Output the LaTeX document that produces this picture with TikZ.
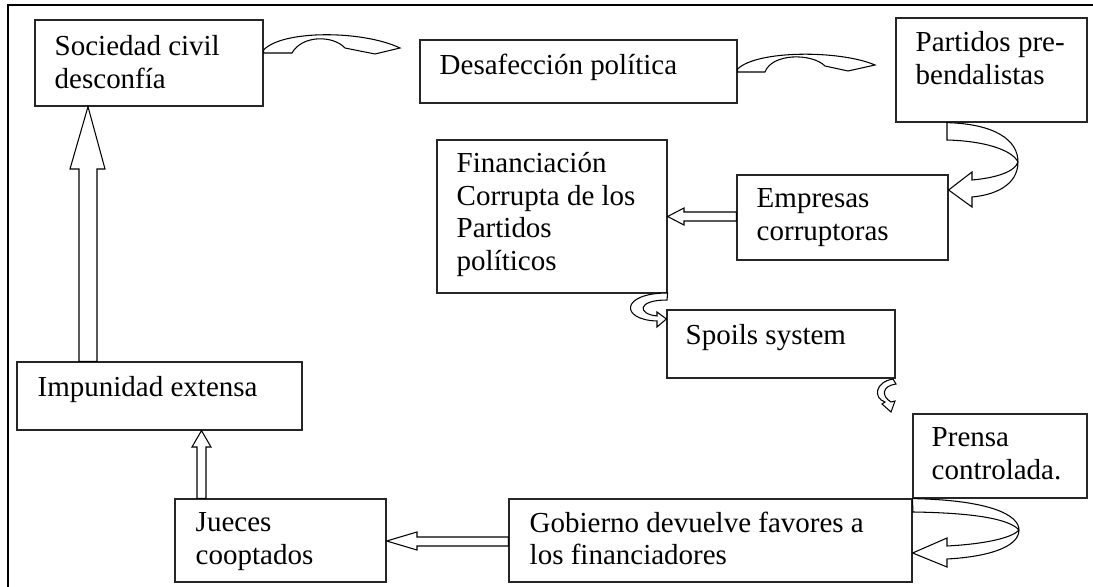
\documentclass[tikz,border=0pt]{standalone}
\usepackage{fontspec}
\setmainfont{Liberation Serif}
\usetikzlibrary{fit}
\begin{document}
\begin{tikzpicture}[x=0.02cm, y=-0.02cm,
  box/.style={draw=black!85, line width=0.7pt, inner sep=0, fit={#1}},
  txt/.style={anchor=north west, inner sep=0, align=left, font=\fontsize{16.5}{18.5}\selectfont},
  blk/.style={draw, fill=white, line width=0.6pt, line join=miter}]
\useasboundingbox (0,0) rectangle (1093,587);
\draw[line width=1.6pt] (8,700) -- (8,5) -- (1200,5);
% boxes
\node[box={(35,20) (263,106)}] (soc) {};
\node[box={(420,40) (737,103)}] (des) {};
\node[box={(896,18) (1087,122)}] (par) {};
\node[box={(437,140) (667,293)}] (fin) {};
\node[box={(737,175) (948,260)}] (emp) {};
\node[box={(667,310) (895,378)}] (spo) {};
\node[box={(17,362) (302,430)}] (imp) {};
\node[box={(913,414) (1087,498)}] (pre) {};
\node[box={(175,499) (386,582)}] (jue) {};
\node[box={(509,499) (912,582)}] (gob) {};
% texts
\node[txt] (soct) at ([shift={(20,16)}]soc.north west) {Sociedad civil\\desconfía};
\node[txt] (dest) at ([shift={(20,14)}]des.north west) {Desafección política};
\node[txt] (part) at ([shift={(20,14)}]par.north west) {Partidos pre-\\bendalistas};
\node[txt] (fint) at ([shift={(20,13)}]fin.north west) {Financiación\\Corrupta de los\\Partidos\\políticos};
\node[txt] (empt) at ([shift={(20,14)}]emp.north west) {Empresas\\corruptoras};
\node[txt] (spot) at ([shift={(19,15)}]spo.north west) {Spoils system};
\node[txt] (impt) at ([shift={(21,15)}]imp.north west) {Impunidad extensa};
\node[txt] (pret) at ([shift={(19,14)}]pre.north west) {Prensa\\controlada.};
\node[txt] (juet) at ([shift={(21,14)}]jue.north west) {Jueces\\cooptados};
\node[txt] (gobt) at ([shift={(21,13)}]gob.north west) {Gobierno devuelve favores a\\los financiadores};
% straight block arrows
\draw[blk] (79,0 |- imp.north) -- (79,169) -- (70,169) -- (88,0 |- soc.south)
  -- (105,169) -- (97,169) -- (97,0 |- imp.north) -- cycle;
\draw[blk] (197,0 |- jue.north) -- (197,447) -- (192,447) -- (201.5,0 |- imp.south)
  -- (211,447) -- (206,447) -- (206,0 |- jue.north) -- cycle;
\draw[blk] (gob.west |- 0,537) -- (417,537) -- (417,532) -- (jue.east |- 0,541)
  -- (417,550) -- (417,546) -- (gob.west |- 0,546) -- cycle;
\draw[blk] (emp.west |- 0,212) -- (684,212) -- (684,208) -- (fin.east |- 0,216.5)
  -- (684,225) -- (684,221) -- (emp.west |- 0,221) -- cycle;
% curved arrows
\draw[blk] (soc.east |- 0,53) -- (soc.east |- 0,50) .. controls (282,30) and (362,30) .. (400,48) -- (375,54)
  -- (345,48) .. controls (333,35) and (302,35) .. (292,53) -- cycle;
\draw[blk] (des.east |- 0,72) -- (des.east |- 0,69) .. controls (757,50) and (840,50) .. (875,65) -- (848,71)
  -- (825,66) .. controls (812,53) and (772,53) .. (765,72) -- cycle;
\draw[blk] (par.south -| 947,0) .. controls (995,124) and (1018,140) .. (1018,162)
  .. controls (1018,185) and (995,195) .. (972,197) -- (972,207) -- (emp.east |- 0,190)
  -- (972,172) -- (972,180) .. controls (995,178) and (1015,172) .. (1018,162)
  .. controls (1012,150) and (985,141) .. (947,140) -- cycle;
\draw[blk] (fin.east |- 0,293) .. controls (620,293) and (620,320) .. (657,321) -- (657,327)
  -- (spo.west |- 0,319) -- (657,312) -- (657,316) .. controls (637,314) and (637,300) .. (667,300) -- cycle;
\draw[blk] (893,379) .. controls (875,382) and (873,398) .. (885,402) -- (882,404)
  -- (891,412) -- (895,401) -- (891,402) .. controls (881,396) and (882,386) .. (896,384) -- cycle;
\draw[blk] (pre.south west) .. controls (990,500) and (1019,515) .. (1019,530)
  .. controls (1019,548) and (985,557) .. (947,559) -- (947,567) -- (gob.east |- 0,553)
  -- (947,538) -- (947,546) .. controls (985,544) and (1012,538) .. (1019,530)
  .. controls (1010,520) and (980,513) .. (913,512) -- cycle;
\end{tikzpicture}
\end{document}
